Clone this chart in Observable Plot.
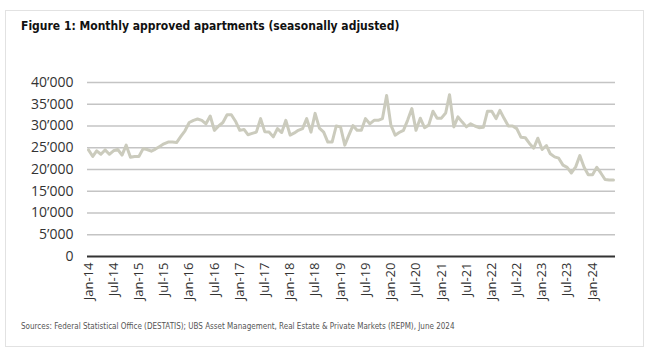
<!DOCTYPE html>
<html>
<head>
<meta charset="utf-8">
<script src="https://cdn.jsdelivr.net/npm/d3@7"></script>
<script src="https://cdn.jsdelivr.net/npm/@observablehq/plot@0.6"></script>
<style>
  html, body { margin: 0; padding: 0; background: #fff; width: 650px; height: 360px; overflow: hidden; }
  #card { position: absolute; left: 5px; top: 10px; width: 639px; height: 337px; border: 1px solid #e2e2e2; box-sizing: border-box; }
  #title { position: absolute; left: 21px; top: 19px; font-family: "DejaVu Sans Condensed", "Open Sans", sans-serif; font-weight: bold; font-size: 12px; color: #111; white-space: nowrap; }
  #chart { position: absolute; left: 0; top: 60px; }
  #caption { position: absolute; left: 21px; top: 322px; font-family: "DejaVu Sans Condensed", "Open Sans", sans-serif; font-size: 8px; color: #555; white-space: nowrap; }
</style>
</head>
<body>
<div id="card"></div>
<div id="title">Figure 1: Monthly approved apartments (seasonally adjusted)</div>
<div id="chart"></div>
<div id="caption">Sources: Federal Statistical Office (DESTATIS); UBS Asset Management, Real Estate &amp; Private Markets (REPM), June 2024</div>
<script>
// Monthly approved apartments, seasonally adjusted, Jan-2014 onwards
const startYear = 2014;
const startMonth = 0; // January
const approvals = [
  24500, 23000, 24300, 23500, 24500, 23500, 24300, 24600, 23300, 25600, 22800, 23000,
  23000, 24800, 24600, 24200, 24700, 25300, 25900, 26300, 26300, 26200, 27600, 28900,
  30800, 31300, 31600, 31300, 30500, 32300, 29000, 30000, 30800, 32600, 32600, 31100,
  29000, 29200, 28000, 28300, 28600, 31700, 28700, 28600, 27500, 29400, 28500, 31300,
  27900, 28400, 29000, 29400, 31700, 28600, 32900, 29500, 28600, 26300, 26300, 30000,
  29800, 25600, 27800, 30100, 29000, 29000, 31700, 30500, 31300, 31300, 31700, 37000,
  30200, 27900, 28500, 29000, 31300, 34000, 29000, 31800, 29600, 30200, 33400, 31800,
  31800, 33000, 37200, 29800, 32100, 30900, 29800, 30500, 30000, 29600, 29700, 33400,
  33400, 31700, 33600, 31700, 30000, 30000, 29400, 27400, 27300, 26000, 24900, 27200,
  24600, 25500, 23600, 22900, 22600, 21000, 20500, 19200, 20600, 23200, 20500, 18800,
  18800, 20500, 19200, 17700, 17600, 17600
];
const yTicks = [0, 5000, 10000, 15000, 20000, 25000, 30000, 35000, 40000];
const xTickEveryMonths = 6;

const start = new Date(Date.UTC(startYear, startMonth, 1));
const data = approvals.map((v, i) => ({date: d3.utcMonth.offset(start, i), value: v}));
const end = data[data.length - 1].date;
const xTicks = d3.utcMonth.every(xTickEveryMonths).range(start, d3.utcMonth.offset(end, -3));
const fmtY = d => d === 0 ? "0" : d3.format(",")(d).replace(/,/g, "\u2019");
const fmtX = d3.utcFormat("%b-%y");

const chart = Plot.plot({
  width: 640,
  height: 260,
  marginLeft: 87,
  marginRight: 25,
  marginTop: 22,
  marginBottom: 64,
  style: {fontFamily: "'Open Sans', sans-serif", fontSize: "13px", color: "#333", background: "transparent"},
  x: {type: "utc", domain: [start, end], insetLeft: 1, insetRight: 2},
  y: {domain: [0, 40000]},
  marks: [
    Plot.ruleY(yTicks.filter(d => d > 0), {stroke: "#c4c4c4", strokeWidth: 1.5}),
    Plot.axisY({ticks: yTicks, tickSize: 0, tickPadding: 14, tickFormat: fmtY, label: null, fontSize: 14}),
    Plot.axisX({ticks: xTicks, tickSize: 0, tickPadding: 6, tickRotate: -90, tickFormat: fmtX, label: null, fontSize: 13}),
    Plot.line(data, {x: "date", y: "value", stroke: "#cbcbbd", strokeWidth: 3, strokeLinejoin: "round"}),
    Plot.ruleY([0], {stroke: "#333", strokeWidth: 2})
  ]
});
document.getElementById("chart").appendChild(chart);
</script>
</body>
</html>
